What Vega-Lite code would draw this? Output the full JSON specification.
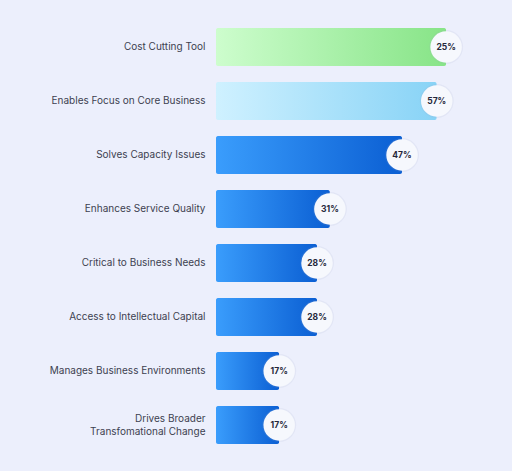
{
  "$schema": "https://vega.github.io/schema/vega-lite/v6.json",
  "autosize": {"type": "none"},
  "padding": {"left": 216, "top": 20, "right": 62, "bottom": 19},
  "width": 234,
  "height": 432,
  "background": "#eceffc",
  "config": {"view": {"stroke": null}, "font": "Inter"},
  "data": {
    "values": [
      {"category": "Cost Cutting Tool", "length": 59, "label": "25%"},
      {"category": "Enables Focus on Core Business", "length": 56.6, "label": "57%"},
      {"category": "Solves Capacity Issues", "length": 47.7, "label": "47%"},
      {"category": "Enhances Service Quality", "length": 29.2, "label": "31%"},
      {"category": "Critical to Business Needs", "length": 25.9, "label": "28%"},
      {"category": "Access to Intellectual Capital", "length": 25.9, "label": "28%"},
      {"category": "Manages Business Environments", "length": 16.2, "label": "17%"},
      {"category": "Drives Broader|Transfomational Change", "length": 16.2, "label": "17%"}
    ]
  },
  "encoding": {
    "y": {
      "field": "category",
      "type": "nominal",
      "sort": null,
      "scale": {"paddingInner": 0.296, "paddingOuter": 0.148},
      "axis": {
        "title": null,
        "domain": false,
        "ticks": false,
        "labelPadding": 11,
        "labelFontSize": 10,
        "labelColor": "#3d3f50",
        "labelFont": "Inter",
        "labelLineHeight": 13,
        "labelExpr": "split(datum.value, '|')",
        "labelOffset": {"condition": {"test": "indexof(datum.value, '|') >= 0", "value": -6.5}, "value": 0}
      }
    },
    "x": {
      "field": "length",
      "type": "quantitative",
      "scale": {"domain": [0, 60], "nice": false},
      "axis": null
    }
  },
  "layer": [
    {
      "transform": [{"filter": "datum.category == 'Cost Cutting Tool'"}],
      "mark": {
        "type": "bar",
        "cornerRadius": 2,
        "color": {
          "gradient": "linear", "x1": 0, "x2": 1, "y1": 0, "y2": 0,
          "stops": [{"offset": 0, "color": "#cdfdcd"}, {"offset": 1, "color": "#87e487"}]
        }
      }
    },
    {
      "transform": [{"filter": "datum.category == 'Enables Focus on Core Business'"}],
      "mark": {
        "type": "bar",
        "cornerRadius": 2,
        "color": {
          "gradient": "linear", "x1": 0, "x2": 1, "y1": 0, "y2": 0,
          "stops": [{"offset": 0, "color": "#cff1ff"}, {"offset": 1, "color": "#88d3f6"}]
        }
      }
    },
    {
      "transform": [{"filter": "datum.category != 'Cost Cutting Tool' && datum.category != 'Enables Focus on Core Business'"}],
      "mark": {
        "type": "bar",
        "cornerRadius": 2,
        "color": {
          "gradient": "linear", "x1": 0, "x2": 1, "y1": 0, "y2": 0,
          "stops": [{"offset": 0, "color": "#3a9dfc"}, {"offset": 1, "color": "#0b5fd3"}]
        }
      }
    },
    {
      "mark": {"type": "point", "shape": "circle", "filled": true, "size": 1150, "color": "#9aa3c8", "opacity": 0.12}
    },
    {
      "mark": {"type": "point", "shape": "circle", "filled": true, "size": 990, "color": "#f6f8fd", "opacity": 1}
    },
    {
      "mark": {"type": "text", "fontSize": 8.5, "fontWeight": "bold", "color": "#25273a", "font": "Inter"},
      "encoding": {"text": {"field": "label"}}
    }
  ]
}
